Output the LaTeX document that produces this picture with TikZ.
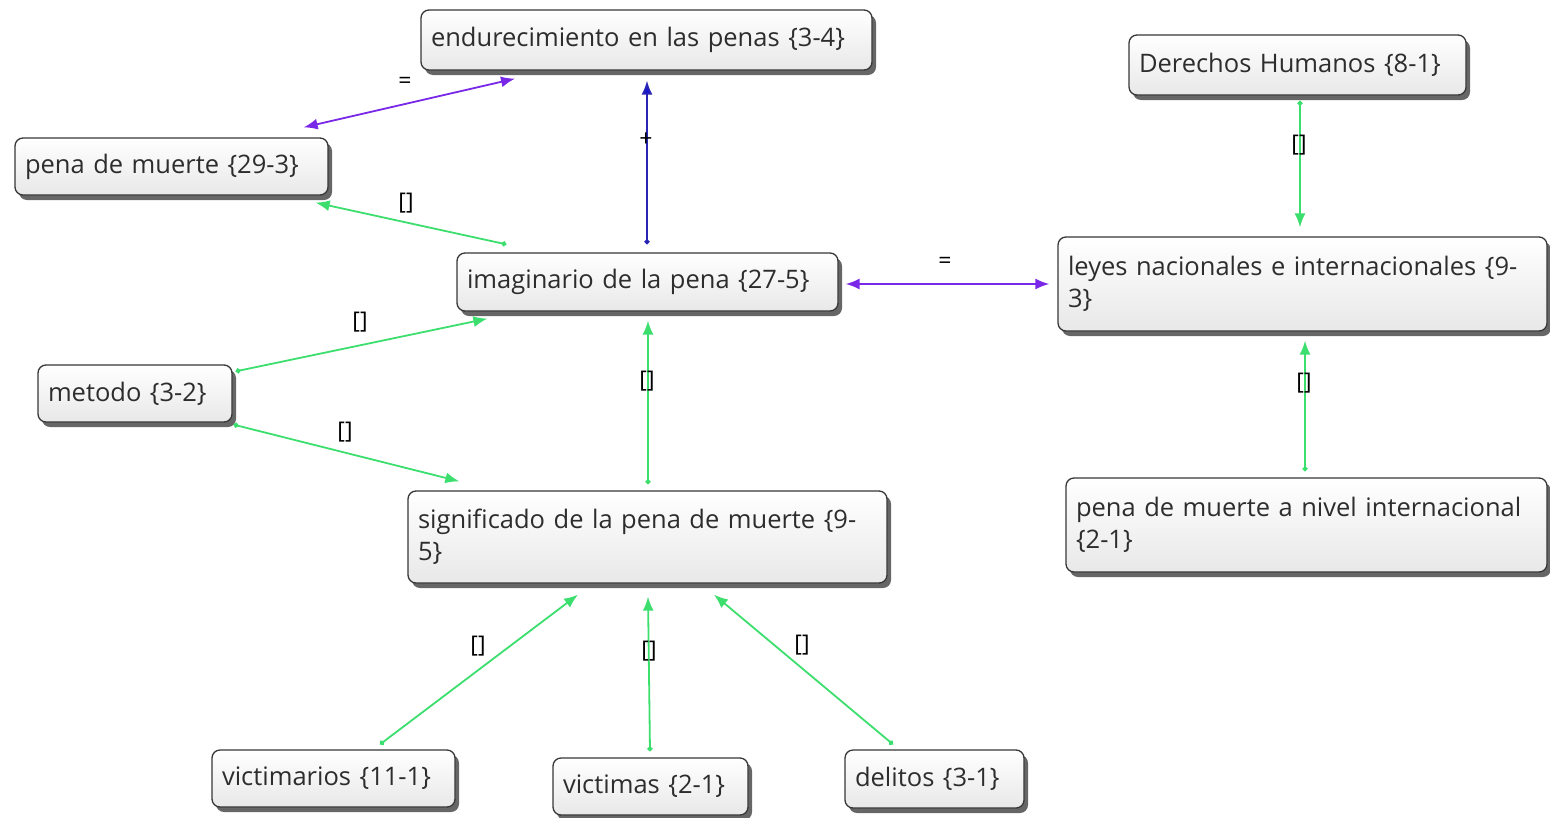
\documentclass[tikz,border=0pt]{standalone}
\usepackage{fontspec}
\setmainfont{Open Sans}
\usetikzlibrary{arrows.meta,shadows,calc}
\definecolor{grn}{RGB}{60,222,110}
\definecolor{prp}{RGB}{122,40,232}
\definecolor{blu}{RGB}{40,36,180}
\definecolor{bluhead}{RGB}{20,20,210}
\definecolor{txt}{RGB}{45,45,45}
\definecolor{edge}{RGB}{55,55,55}
\begin{document}
\begin{tikzpicture}[x=1pt,y=-1pt,
  box/.style={draw=edge, line width=1.3pt, rounded corners=8pt,
    top color=white, bottom color=black!9,
    drop shadow={shadow xshift=4pt, shadow yshift=-5pt, fill=black, opacity=0.6},
    font=\fontsize{25.5}{32}\selectfont, text=txt, align=left,
    inner xsep=10pt, inner ysep=0pt, anchor=center},
  gline/.style={draw=grn, line width=1.8pt, {Circle[length=5pt]}-{Latex[length=14pt,width=11pt]}},
  pline/.style={draw=prp, line width=1.8pt, {Latex[length=14pt,width=11pt]}-{Latex[length=14pt,width=11pt]}},
  bline/.style={draw=blu, line width=1.8pt, {Circle[length=5pt,fill=blu]}-{Latex[length=14pt,width=11pt,fill=bluhead]}},
  lbl/.style={font=\fontsize{23}{24}\selectfont, text=black, inner sep=0pt}
]
\useasboundingbox (0,0) rectangle (1550,817);

\node[box, text width=431pt, minimum height=60pt] (endur) at (646.5,40) {endurecimiento en las penas \{3-4\}};
\node[box, text width=293pt, minimum height=57pt] (penam) at (171.5,166.5) {pena de muerte \{29-3\}};
\node[box, text width=317pt, minimum height=60pt] (derech) at (1297.5,65) {Derechos Humanos \{8-1\}};
\node[box, text width=361pt, minimum height=58pt] (imag) at (647.5,282) {imaginario de la pena \{27-5\}};
\node[box, text width=469pt, minimum height=94pt] (leyes) at (1302.5,284) {leyes nacionales e internacionales \{9-\\3\}};
\node[box, text width=174pt, minimum height=57pt] (metodo) at (135,393.5) {metodo \{3-2\}};
\node[box, text width=459pt, minimum height=92pt] (signif) at (647.5,537) {significado de la pena de muerte \{9-\\5\}};
\node[box, text width=461pt, minimum height=94pt] (penaint) at (1306.5,525) {pena de muerte a nivel internacional\\\{2-1\}};
\node[box, text width=223pt, minimum height=57pt] (victimarios) at (333.5,778.5) {victimarios \{11-1\}};
\node[box, text width=175pt, minimum height=57pt] (victimas) at (650.5,786.5) {victimas \{2-1\}};
\node[box, text width=159pt, minimum height=58pt] (delitos) at (934.5,779) {delitos \{3-1\}};

% green connectors
\draw[gline] ($(imag.north west)+(50,-8)$) -- ($(penam.south east)+(-13,7)$);
\draw[gline] ($(metodo.north east)+(3,7)$) -- ($(imag.south west)+(31,7)$);
\draw[gline] ($(metodo.south east)+(1,2)$) -- ($(signif.north west)+(52,-9)$);
\draw[gline] ($(signif.north)+(0.5,-6)$) -- ($(imag.south)+(0.5,9)$);
\draw[gline] ($(derech.south)+(2.5,5)$) -- ($(leyes.north)+(-2.5,-9)$);
\draw[gline] ($(penaint.north)+(-1.5,-6)$) -- ($(leyes.south)+(2.5,9)$);
\draw[gline] ($(victimarios.north)+(46.5,-5)$) -- ($(signif.south)+(-69.5,11)$);
\draw[gline] ($(victimas.north)+(-0.5,-6)$) -- ($(signif.south)+(0.5,13)$);
\draw[gline] ($(delitos.north)+(-41.5,-5)$) -- ($(signif.south)+(66.5,11)$);
% purple connectors
\draw[pline] ($(penam.north east)+(-25,-10)$) -- ($(endur.south)+(-131.5,8)$);
\draw[pline] ($(imag.east)+(7,2)$) -- ($(leyes.west)+(-8,0)$);
% blue connector
\draw[bline] ($(imag.north)+(-0.5,-8)$) -- ($(endur.south)+(0.5,10)$);

% labels
\node[lbl] (l1) at (405,83) {=};
\node[lbl] (l2) at (945,263) {=};
\node[lbl] (l3) at (646,140) {+};
\node[lbl] (l4) at (406,203) {[]};
\node[lbl] (l5) at (360,322) {[]};
\node[lbl] (l6) at (345,432) {[]};
\node[lbl] (l7) at (647,381) {[]};
\node[lbl] (l8) at (1299,145) {[]};
\node[lbl] (l9) at (1304,383) {[]};
\node[lbl] (l10) at (478,646) {[]};
\node[lbl] (l11) at (649,651) {[]};
\node[lbl] (l12) at (802,645) {[]};
\end{tikzpicture}
\end{document}
